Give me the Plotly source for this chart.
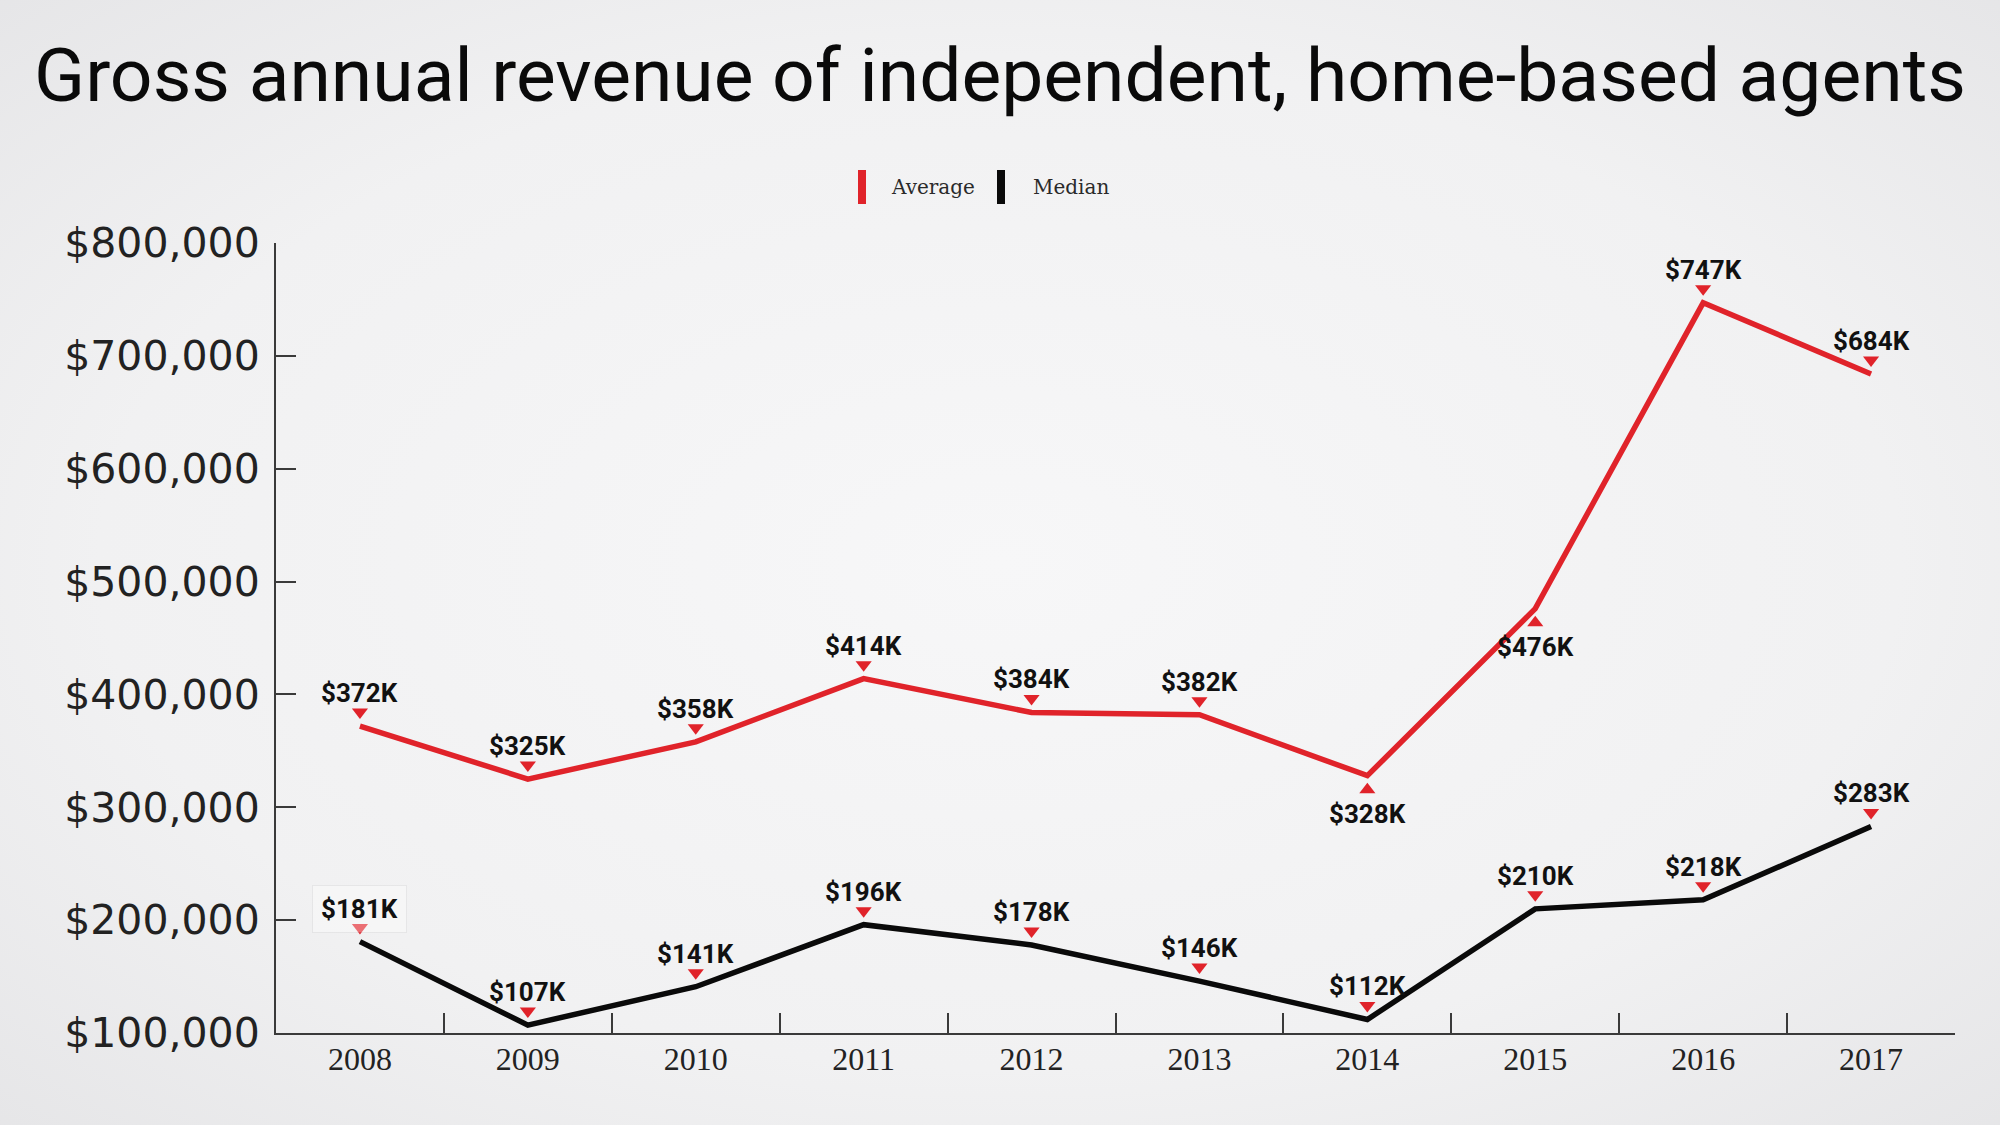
import base64
import plotly.graph_objects as go

# ---- data ----
years = ["2008", "2009", "2010", "2011", "2012", "2013", "2014", "2015", "2016", "2017"]
average = [372000, 325000, 358000, 414000, 384000, 382000, 328000, 476000, 747000, 684000]
median = [181000, 107000, 141000, 196000, 178000, 146000, 112000, 210000, 218000, 283000]
average_labels = ["$372K", "$325K", "$358K", "$414K", "$384K", "$382K", "$328K", "$476K", "$747K", "$684K"]
median_labels = ["$181K", "$107K", "$141K", "$196K", "$178K", "$146K", "$112K", "$210K", "$218K", "$283K"]
average_below = [False, False, False, False, False, False, True, True, False, False]
median_below = [False] * 10
y_ticks = [100000, 200000, 300000, 400000, 500000, 600000, 700000, 800000]

RED = "#e0232a"
BLACK = "#0a0a0a"
W, H = 2000, 1125
L, R, T, B = 276, 45, 243, 92
PW, PH = W - L - R, H - T - B

def px_x(p):
    return (p - L) / PW

def px_y(p):
    return (H - B - p) / PH

fig = go.Figure()

# background gradient
svg = f"""<svg xmlns='http://www.w3.org/2000/svg' width='{W}' height='{H}'>
<defs><radialGradient id='g' cx='50%' cy='50%' r='75%'>
<stop offset='0%' stop-color='#f7f7f8'/><stop offset='60%' stop-color='#f1f1f2'/><stop offset='100%' stop-color='#e4e4e6'/>
</radialGradient></defs><rect width='{W}' height='{H}' fill='url(#g)'/></svg>"""
src = "data:image/svg+xml;base64," + base64.b64encode(svg.encode()).decode()
fig.add_layout_image(dict(source=src, xref="paper", yref="paper", x=px_x(0), y=px_y(0),
                          sizex=W / PW, sizey=H / PH, xanchor="left", yanchor="top",
                          sizing="stretch", layer="below"))

for name, vals, color in [("Average", average, RED), ("Median", median, BLACK)]:
    fig.add_trace(go.Scatter(x=years, y=vals, mode="lines", name=name,
                             line=dict(color=color, width=5.5), showlegend=False,
                             hoverinfo="skip"))

# red triangle markers, offset from the points
for vals, below in [(average, average_below), (median, median_below)]:
    fig.add_trace(go.Scatter(
        x=years, y=vals, mode="markers", showlegend=False, hoverinfo="skip",
        marker=dict(symbol="triangle-up", size=14, color=RED,
                    angle=[0 if b else 180 for b in below], standoff=14,
                    line=dict(width=0))))

label_font = dict(family="Liberation Sans Narrow, Arial Narrow, Roboto, sans-serif",
                  size=26, color="#111111", weight="bold")
for vals, labels, below in [(average, average_labels, average_below), (median, median_labels, median_below)]:
    for i, (v, t, b) in enumerate(zip(vals, labels, below)):
        ann = dict(x=i, y=v, xref="x", yref="y", text=t, showarrow=False, font=label_font,
                   yshift=-38 if b else 33, xanchor="center", yanchor="middle")
        if labels is median_labels and i == 0:
            ann.update(bgcolor="rgba(255,255,255,0.35)", bordercolor="rgba(0,0,0,0.05)",
                       borderwidth=1, borderpad=8)
        fig.add_annotation(**ann)

# manual legend
legend_items = [("Average", RED, 862, 889), ("Median", BLACK, 1001, 1031)]
for text, color, bx, tx in legend_items:
    fig.add_shape(type="rect", xref="paper", yref="paper",
                  x0=px_x(bx - 4), x1=px_x(bx + 4), y0=px_y(204), y1=px_y(170),
                  fillcolor=color, line=dict(width=0))
    fig.add_annotation(xref="paper", yref="paper", x=px_x(tx), y=px_y(187), text=text,
                       showarrow=False, xanchor="left", yanchor="middle",
                       font=dict(family="DejaVu Serif, serif", size=20, color="#2a2a2a"))

fig.update_layout(
    width=W, height=H,
    margin=dict(l=L, r=R, t=T, b=B),
    paper_bgcolor="#f1f1f2",
    plot_bgcolor="rgba(0,0,0,0)",
    title=dict(text="Gross annual revenue of independent, home-based agents",
               x=0.5, xref="container", xanchor="center",
               y=1 - 75 / H, yref="container", yanchor="middle",
               font=dict(family="Roboto, sans-serif", size=75, color="#0a0a0a")),
    showlegend=False,
)
fig.update_xaxes(type="category", range=[-0.5, 9.5], tickson="boundaries",
                 ticks="inside", ticklen=20, tickwidth=2, tickcolor="#3a3a3a",
                 showline=True, linecolor="#3a3a3a", linewidth=2, showgrid=False,
                 zeroline=False, ticklabelstandoff=-3,
                 tickfont=dict(family="Liberation Serif, serif", size=32, color="#222222"))
fig.update_yaxes(range=[100000, 800000], tickvals=y_ticks, tickformat="$,.0f",
                 ticks="inside", ticklen=20, tickwidth=2, tickcolor="#3a3a3a",
                 showline=True, linecolor="#3a3a3a", linewidth=2, showgrid=False,
                 zeroline=False, ticklabelstandoff=6,
                 tickfont=dict(family="DejaVu Sans, sans-serif", size=41, color="#222222"))

fig.write_html("out.html")
